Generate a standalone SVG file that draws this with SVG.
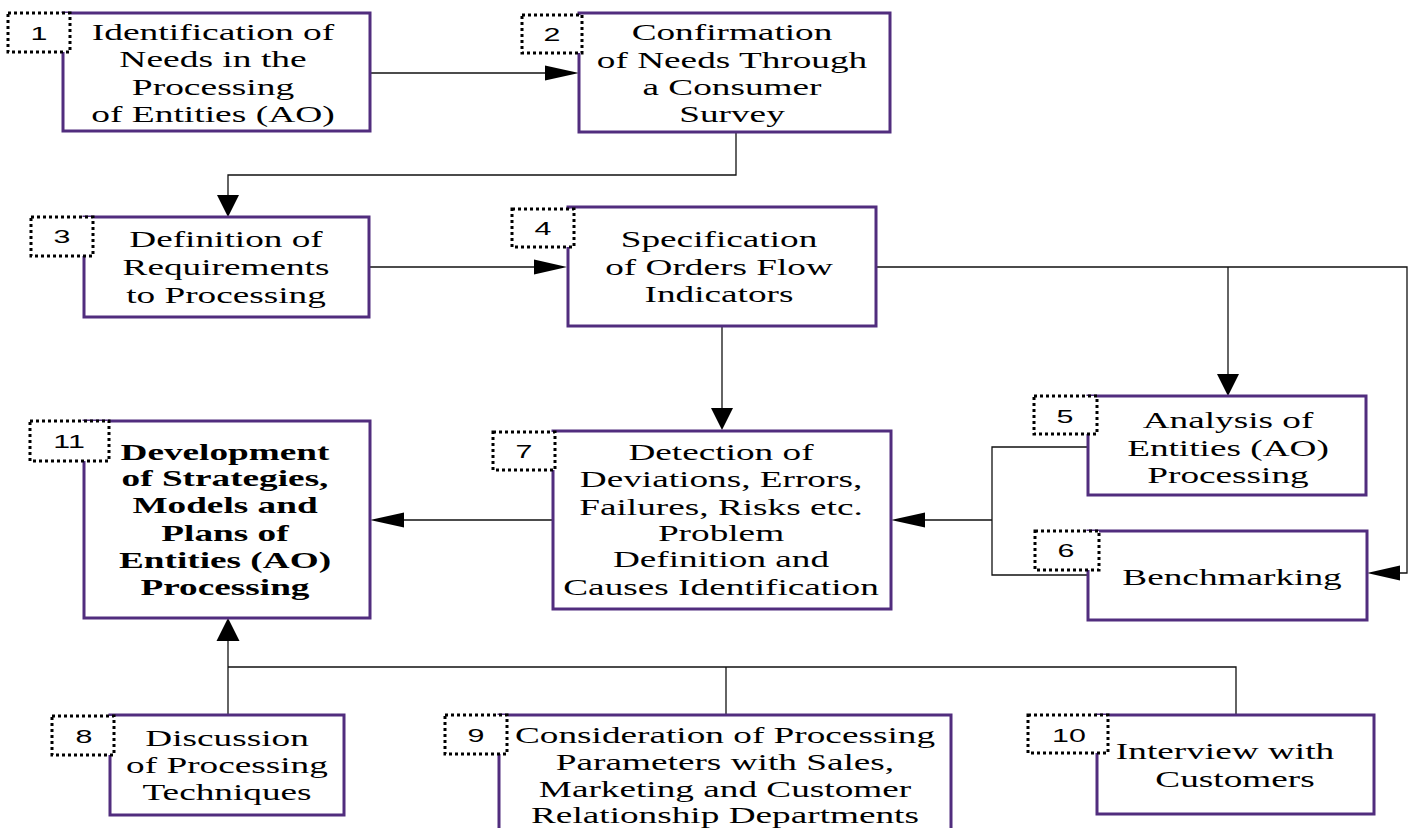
<svg xmlns="http://www.w3.org/2000/svg" width="1413" height="828" viewBox="0 0 1413 828">
<style>
.box{fill:#fff;stroke:#512d7e;stroke-width:3}
.badge{fill:#fff;stroke:#000;stroke-width:3;stroke-dasharray:3 3}
.t{font-family:"Liberation Serif","Times New Roman",serif;font-size:23px;text-anchor:middle;fill:#000}
.b{font-weight:bold}
.n{font-family:"Liberation Sans",Arial,sans-serif;font-size:19px;text-anchor:middle;fill:#000}
.c{fill:none;stroke:#111;stroke-width:1.3}
.ah{fill:#000;stroke:none}
</style>
<rect width="1413" height="828" fill="#fff"/>
<g id="connectors">
<line class="c" x1="370" y1="73" x2="546" y2="73"/>
<polygon class="ah" points="579,73 545,65.5 545,80.5"/>
<polyline class="c" points="736,132 736,175 228,175 228,197"/>
<polygon class="ah" points="228,217 217,195 239,195"/>
<line class="c" x1="369" y1="267" x2="535" y2="267"/>
<polygon class="ah" points="567,267 534,259.5 534,274.5"/>
<polyline class="c" points="876,267 1407,267 1407,573 1399,573"/>
<polygon class="ah" points="1367,573 1400,565.5 1400,580.5"/>
<line class="c" x1="1228" y1="267" x2="1228" y2="375"/>
<polygon class="ah" points="1228,396 1217,374 1239,374"/>
<line class="c" x1="722" y1="326" x2="722" y2="409"/>
<polygon class="ah" points="722,430 711,408 733,408"/>
<polyline class="c" points="1088,447 992,447 992,575 1088,575"/>
<line class="c" x1="992" y1="520" x2="924" y2="520"/>
<polygon class="ah" points="891,520 925,512.5 925,527.5"/>
<line class="c" x1="553" y1="520" x2="403" y2="520"/>
<polygon class="ah" points="370,520 404,512.5 404,527.5"/>
<line class="c" x1="228" y1="715" x2="228" y2="640"/>
<polygon class="ah" points="228,618 216.5,641 239.5,641"/>
<polyline class="c" points="228,667 1236,667 1236,715"/>
<line class="c" x1="726" y1="667" x2="726" y2="715"/>
</g>
<g id="node1">
<rect class="box" x="63" y="13" width="307" height="118"/>
<g transform="translate(213 0) scale(1.63 1)">
<text class="t" x="0" y="40">Identification of</text>
<text class="t" x="0" y="67.5">Needs in the</text>
<text class="t" x="0" y="95">Processing</text>
<text class="t" x="0" y="122">of Entities (AO)</text>
</g>
<rect class="badge" x="8" y="13" width="62" height="39"/>
<text class="n" transform="translate(39 40) scale(1.6 1)">1</text>
</g>
<g id="node2">
<rect class="box" x="579" y="13" width="311" height="119"/>
<g transform="translate(732 0) scale(1.62 1)">
<text class="t" x="0" y="40">Confirmation</text>
<text class="t" x="0" y="68">of Needs Through</text>
<text class="t" x="0" y="95">a Consumer</text>
<text class="t" x="0" y="122">Survey</text>
</g>
<rect class="badge" x="522" y="15" width="60" height="38"/>
<text class="n" transform="translate(552 41) scale(1.6 1)">2</text>
</g>
<g id="node3">
<rect class="box" x="84" y="217" width="285" height="100"/>
<g transform="translate(226 0) scale(1.62 1)">
<text class="t" x="0" y="247">Definition of</text>
<text class="t" x="0" y="275">Requirements</text>
<text class="t" x="0" y="303">to Processing</text>
</g>
<rect class="badge" x="31" y="217" width="62" height="39"/>
<text class="n" transform="translate(62 243) scale(1.6 1)">3</text>
</g>
<g id="node4">
<rect class="box" x="568" y="207" width="308" height="119"/>
<g transform="translate(719 0) scale(1.62 1)">
<text class="t" x="0" y="247">Specification</text>
<text class="t" x="0" y="275">of Orders Flow</text>
<text class="t" x="0" y="302">Indicators</text>
</g>
<rect class="badge" x="512" y="209" width="62" height="38"/>
<text class="n" transform="translate(543 235) scale(1.6 1)">4</text>
</g>
<g id="node5">
<rect class="box" x="1088" y="396" width="278" height="99"/>
<g transform="translate(1228 0) scale(1.62 1)">
<text class="t" x="0" y="428">Analysis of</text>
<text class="t" x="0" y="456">Entities (AO)</text>
<text class="t" x="0" y="483">Processing</text>
</g>
<rect class="badge" x="1034" y="396" width="63" height="38"/>
<text class="n" transform="translate(1065 423) scale(1.6 1)">5</text>
</g>
<g id="node6">
<rect class="box" x="1088" y="531" width="279" height="89"/>
<g transform="translate(1232 0) scale(1.62 1)">
<text class="t" x="0" y="585">Benchmarking</text>
</g>
<rect class="badge" x="1035" y="531" width="64" height="39"/>
<text class="n" transform="translate(1066 557) scale(1.6 1)">6</text>
</g>
<g id="node7">
<rect class="box" x="553" y="431" width="338" height="178"/>
<g transform="translate(721 0) scale(1.62 1)">
<text class="t" x="0" y="460">Detection of</text>
<text class="t" x="0" y="487">Deviations, Errors,</text>
<text class="t" x="0" y="515">Failures, Risks etc.</text>
<text class="t" x="0" y="541">Problem</text>
<text class="t" x="0" y="567">Definition and</text>
<text class="t" x="0" y="595">Causes Identification</text>
</g>
<rect class="badge" x="493" y="432" width="62" height="38"/>
<text class="n" transform="translate(524 458) scale(1.6 1)">7</text>
</g>
<g id="node11">
<rect class="box" x="84" y="421" width="286" height="197"/>
<g transform="translate(225 0) scale(1.62 1)">
<text class="t b" x="0" y="460">Development</text>
<text class="t b" x="0" y="486">of Strategies,</text>
<text class="t b" x="0" y="513">Models and</text>
<text class="t b" x="0" y="541">Plans of</text>
<text class="t b" x="0" y="568">Entities (AO)</text>
<text class="t b" x="0" y="595">Processing</text>
</g>
<rect class="badge" x="30" y="421" width="79" height="40"/>
<text class="n" transform="translate(69 448) scale(1.6 1)">11</text>
</g>
<g id="node8">
<rect class="box" x="110" y="715" width="234" height="100"/>
<g transform="translate(227 0) scale(1.62 1)">
<text class="t" x="0" y="746">Discussion</text>
<text class="t" x="0" y="773">of Processing</text>
<text class="t" x="0" y="800">Techniques</text>
</g>
<rect class="badge" x="52" y="716" width="62" height="39"/>
<text class="n" transform="translate(84 743) scale(1.6 1)">8</text>
</g>
<g id="node9">
<rect class="box" x="499" y="715" width="452" height="140"/>
<g transform="translate(725 0) scale(1.62 1)">
<text class="t" x="0" y="743">Consideration of Processing</text>
<text class="t" x="0" y="770">Parameters with Sales,</text>
<text class="t" x="0" y="797">Marketing and Customer</text>
<text class="t" x="0" y="823">Relationship Departments</text>
</g>
<rect class="badge" x="445" y="715" width="62" height="39"/>
<text class="n" transform="translate(476 742) scale(1.6 1)">9</text>
</g>
<g id="node10">
<rect class="box" x="1097" y="715" width="277" height="99"/>
<g transform="translate(1225 0) scale(1.62 1)">
<text class="t" x="0" y="759">Interview with</text>
</g>
<g transform="translate(1235 0) scale(1.62 1)">
<text class="t" x="0" y="787">Customers</text>
</g>
<rect class="badge" x="1028" y="715" width="80" height="38"/>
<text class="n" transform="translate(1069 742) scale(1.6 1)">10</text>
</g>
</svg>
